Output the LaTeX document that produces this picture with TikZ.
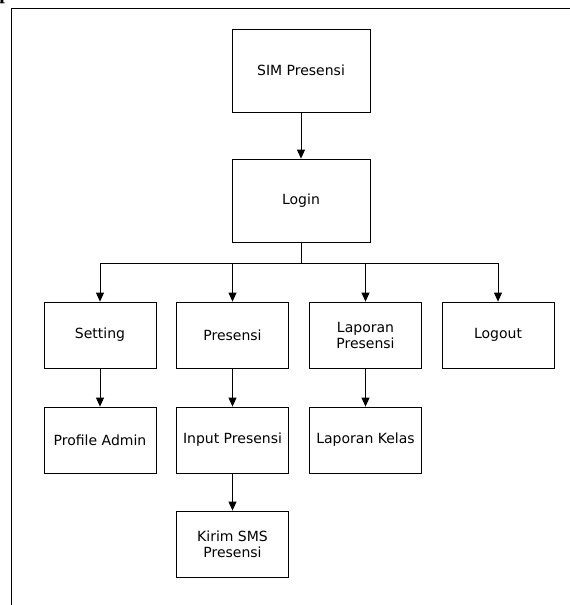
\documentclass[tikz,border=0pt]{standalone}
\usepackage{fontspec}
\setmainfont{DejaVu Sans}
\newfontfamily\serifbold{Liberation Serif}
\usetikzlibrary{arrows.meta}
\begin{document}
\begin{tikzpicture}[x=1pt,y=-1pt,
        every path/.style={line width=0.8pt},
        menu/.style={draw, minimum width=112pt, minimum height=66pt, align=center,
            inner sep=2pt, font=\fontsize{14}{16}\selectfont},
        top/.style={menu, minimum width=138pt, minimum height=83pt},
        >={Triangle[width=8pt,length=9pt]}]
            \useasboundingbox (0,0) rectangle (570,605);
            \node[anchor=base west, inner sep=0pt, font=\serifbold\bfseries\fontsize{20}{20}\selectfont] (pp) at (-1,-1) {p};
            \draw (11,8) -- (570,8);
            \draw (11,8) -- (11,605);

            \node[top] (sim) at (301,70.5) {SIM Presensi};
            \node[top] (login) at (301,200.5) {Login};
            \draw[->] (sim) -- (login);

            \node[menu] (setting) at (100,335) {Setting};
            \node[menu] (presensi) at (232.5,335) {Presensi};
            \node[menu] (laporan) at (365.5,335) {Laporan\\Presensi};
            \node[menu] (logout) at (498,335) {Logout};
            \foreach \m in {setting,presensi,laporan,logout}
                \draw[->] (login.south) -- ++(0,20.7) -| (\m.north);

            \node[menu] (profil) at (100,440) {Profile Admin};
            \node[menu] (input) at (232.5,440) {Input Presensi};
            \node[menu] (kelas) at (365.5,440) {Laporan Kelas};
            \draw[->] (setting) -- (profil);
            \draw[->] (presensi) -- (input);
            \draw[->] (laporan) -- (kelas);

            \node[menu] (sms) at (232.5,544) {Kirim SMS\\Presensi};
            \draw[->] (input) -- (sms);
\end{tikzpicture}
\end{document}
